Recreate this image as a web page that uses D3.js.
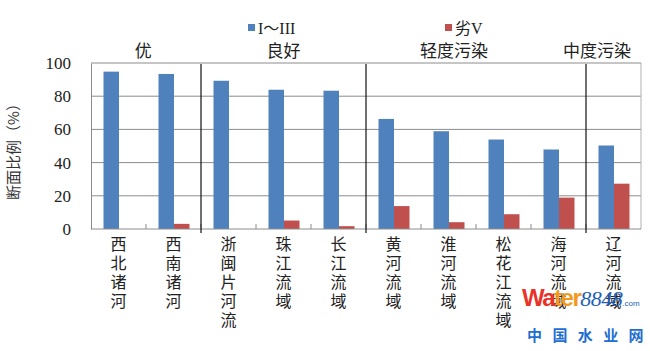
<!DOCTYPE html>
<html>
<head>
<meta charset="utf-8">
<script src="https://cdn.jsdelivr.net/npm/d3@7"></script>
<style>
  body { margin: 0; background: #fff; }
  svg { display: block; }
</style>
</head>
<body>
<script>
let w = 650;
let h = 351;

let categories = ['西北诸河', '西南诸河', '浙闽片河流', '珠江流域', '长江流域',
  '黄河流域', '淮河流域', '松花江流域', '海河流域', '辽河流域'];
let seriesNames = ['I～III', '劣V'];
let goodValues = [94.8, 93.4, 89.3, 83.9, 83.3, 66.3, 58.9, 53.9, 47.9, 50.3];
let badValues = [0, 3.1, 0, 5.1, 1.7, 13.8, 4.1, 8.9, 18.9, 27.3];
let yTicks = [0, 20, 40, 60, 80, 100];

// quality groups: name, first category index, label centre (in category units)
let groupNames = ['优', '良好', '轻度污染', '中度污染'];
let groupStart = [0, 2, 5, 9];
let groupLabelAt = [0.95, 3.5, 6.6, 9.2];

let colors = ['#4f81bd', '#c0504d'];

let plotLeft = 91, plotRight = 641, plotTop = 63, plotBottom = 229;

let xScale = d3.scaleBand()
  .domain(d3.range(categories.length))
  .range([plotLeft, plotRight]);

let xLin = d3.scaleLinear()
  .domain([0, categories.length])
  .range([plotLeft, plotRight]);

let yScale = d3.scaleLinear()
  .domain([0, 100])
  .range([plotBottom, plotTop]);

let barW = 15.5;

let svg = d3.select('body')
  .append('svg')
  .attr('width', w)
  .attr('height', h);

// gridlines
svg.append('g')
  .selectAll('line')
  .data(yTicks.slice(1))
  .enter()
  .append('line')
  .attr('x1', plotLeft)
  .attr('x2', plotRight)
  .attr('y1', (d) => { return yScale(d); })
  .attr('y2', (d) => { return yScale(d); })
  .attr('stroke', '#8c8c8c')
  .attr('stroke-width', 1);

// right border
svg.append('line')
  .attr('x1', plotRight).attr('x2', plotRight)
  .attr('y1', plotTop).attr('y2', plotBottom)
  .attr('stroke', '#b0b0b0');

// y axis
let yAxis = d3.axisLeft()
  .scale(yScale)
  .tickValues(yTicks)
  .tickSize(0)
  .tickPadding(20);

svg.append('g')
  .attr('transform', 'translate(' + plotLeft + ', 0)')
  .call(yAxis)
  .call((g) => { g.select('.domain').attr('stroke', '#8c8c8c'); })
  .selectAll('text')
  .attr('font-family', '"Liberation Serif", serif')
  .attr('font-size', '17px')
  .attr('fill', '#222');

// bars
let bars = svg.append('g');
bars.selectAll('rect.good')
  .data(goodValues)
  .enter()
  .append('rect')
  .attr('class', 'good')
  .attr('x', (d, i) => { return xScale(i) + xScale.bandwidth() / 2 - barW + 0.5; })
  .attr('y', (d) => { return yScale(d); })
  .attr('width', barW)
  .attr('height', (d) => { return yScale(0) - yScale(d); })
  .attr('fill', colors[0]);

bars.selectAll('rect.bad')
  .data(badValues)
  .enter()
  .append('rect')
  .attr('class', 'bad')
  .attr('x', (d, i) => { return xScale(i) + xScale.bandwidth() / 2 + 0.5; })
  .attr('y', (d) => { return yScale(d); })
  .attr('width', barW)
  .attr('height', (d) => { return yScale(0) - yScale(d); })
  .attr('fill', colors[1]);

// baseline and category ticks
svg.append('line')
  .attr('x1', plotLeft).attr('x2', plotRight)
  .attr('y1', plotBottom).attr('y2', plotBottom)
  .attr('stroke', '#8c8c8c');

svg.append('g')
  .selectAll('line')
  .data(d3.range(1, categories.length))
  .enter()
  .append('line')
  .attr('x1', (d) => { return xLin(d); })
  .attr('x2', (d) => { return xLin(d); })
  .attr('y1', plotBottom)
  .attr('y2', plotBottom - 5)
  .attr('stroke', '#8c8c8c');

// group separators
svg.append('g')
  .selectAll('line')
  .data(groupStart.slice(1))
  .enter()
  .append('line')
  .attr('x1', (d) => { return xLin(d); })
  .attr('x2', (d) => { return xLin(d); })
  .attr('y1', plotTop + 1)
  .attr('y2', plotBottom + 4)
  .attr('stroke', '#111')
  .attr('stroke-width', 1.2);

// group names
svg.append('g')
  .selectAll('text')
  .data(groupNames)
  .enter()
  .append('text')
  .text((d) => { return d; })
  .attr('x', (d, i) => { return xLin(groupLabelAt[i]); })
  .attr('y', 57)
  .attr('text-anchor', 'middle')
  .attr('font-family', '"Noto Sans CJK SC", sans-serif')
  .attr('font-size', '17px')
  .attr('fill', '#222');

// category labels, one character per line
let catLabels = svg.append('g')
  .selectAll('text')
  .data(categories)
  .enter()
  .append('text')
  .attr('text-anchor', 'middle')
  .attr('font-family', '"Noto Sans CJK SC", sans-serif')
  .attr('font-size', '16px')
  .attr('fill', '#222');

catLabels.selectAll('tspan')
  .data((d, i) => { return d.split('').map((c) => { return [c, i]; }); })
  .enter()
  .append('tspan')
  .attr('x', (d) => { return xScale(d[1]) + xScale.bandwidth() / 2; })
  .attr('y', (d, j) => { return 250 + j * 19; })
  .text((d) => { return d[0]; });

// legend
let legendX = [248, 445];
let legend = svg.append('g')
  .selectAll('g')
  .data(seriesNames)
  .enter()
  .append('g')
  .attr('transform', (d, i) => { return 'translate(' + legendX[i] + ', 0)'; });

legend.append('rect')
  .attr('x', 0)
  .attr('y', 24)
  .attr('width', 7)
  .attr('height', 7)
  .attr('fill', (d, i) => { return colors[i]; });

legend.append('text')
  .text((d) => { return d; })
  .attr('x', 10)
  .attr('y', 34)
  .attr('font-family', '"Liberation Serif", "Noto Sans CJK SC", serif')
  .attr('font-size', '16px')
  .attr('fill', '#222');

// y axis title
svg.append('text')
  .text('断面比例（%）')
  .attr('transform', 'translate(19, 148) rotate(-90)')
  .attr('text-anchor', 'middle')
  .attr('font-family', '"Noto Sans CJK SC", sans-serif')
  .attr('font-size', '15px')
  .attr('fill', '#333');

// watermark
let wm = svg.append('text')
  .attr('x', 522)
  .attr('y', 306)
  .attr('font-family', '"Liberation Sans", sans-serif')
  .attr('font-weight', 'bold')
  .attr('font-size', '24px')
  .attr('letter-spacing', '-1.5px');
wm.append('tspan').text('Wa').attr('fill', '#e8332a');
wm.append('tspan').text('ter').attr('fill', '#f39a1e');
wm.append('tspan').text('8848').attr('fill', '#1f5fb8')
  .attr('font-family', '"Liberation Serif", serif')
  .attr('font-style', 'italic')
  .attr('font-weight', 'normal')
  .attr('font-size', '22px')
  .attr('letter-spacing', '-0.5px');
wm.append('tspan').text('.com').attr('fill', '#1f5fb8')
  .attr('font-size', '8px')
  .attr('font-weight', 'normal')
  .attr('letter-spacing', '0px');

svg.append('text')
  .text('中 国 水 业 网')
  .attr('x', 527)
  .attr('y', 341)
  .attr('font-family', '"Noto Sans CJK SC", sans-serif')
  .attr('font-weight', 'bold')
  .attr('font-size', '15px')
  .attr('letter-spacing', '3.5px')
  .attr('fill', '#1f6fd0');
</script>
</body>
</html>
